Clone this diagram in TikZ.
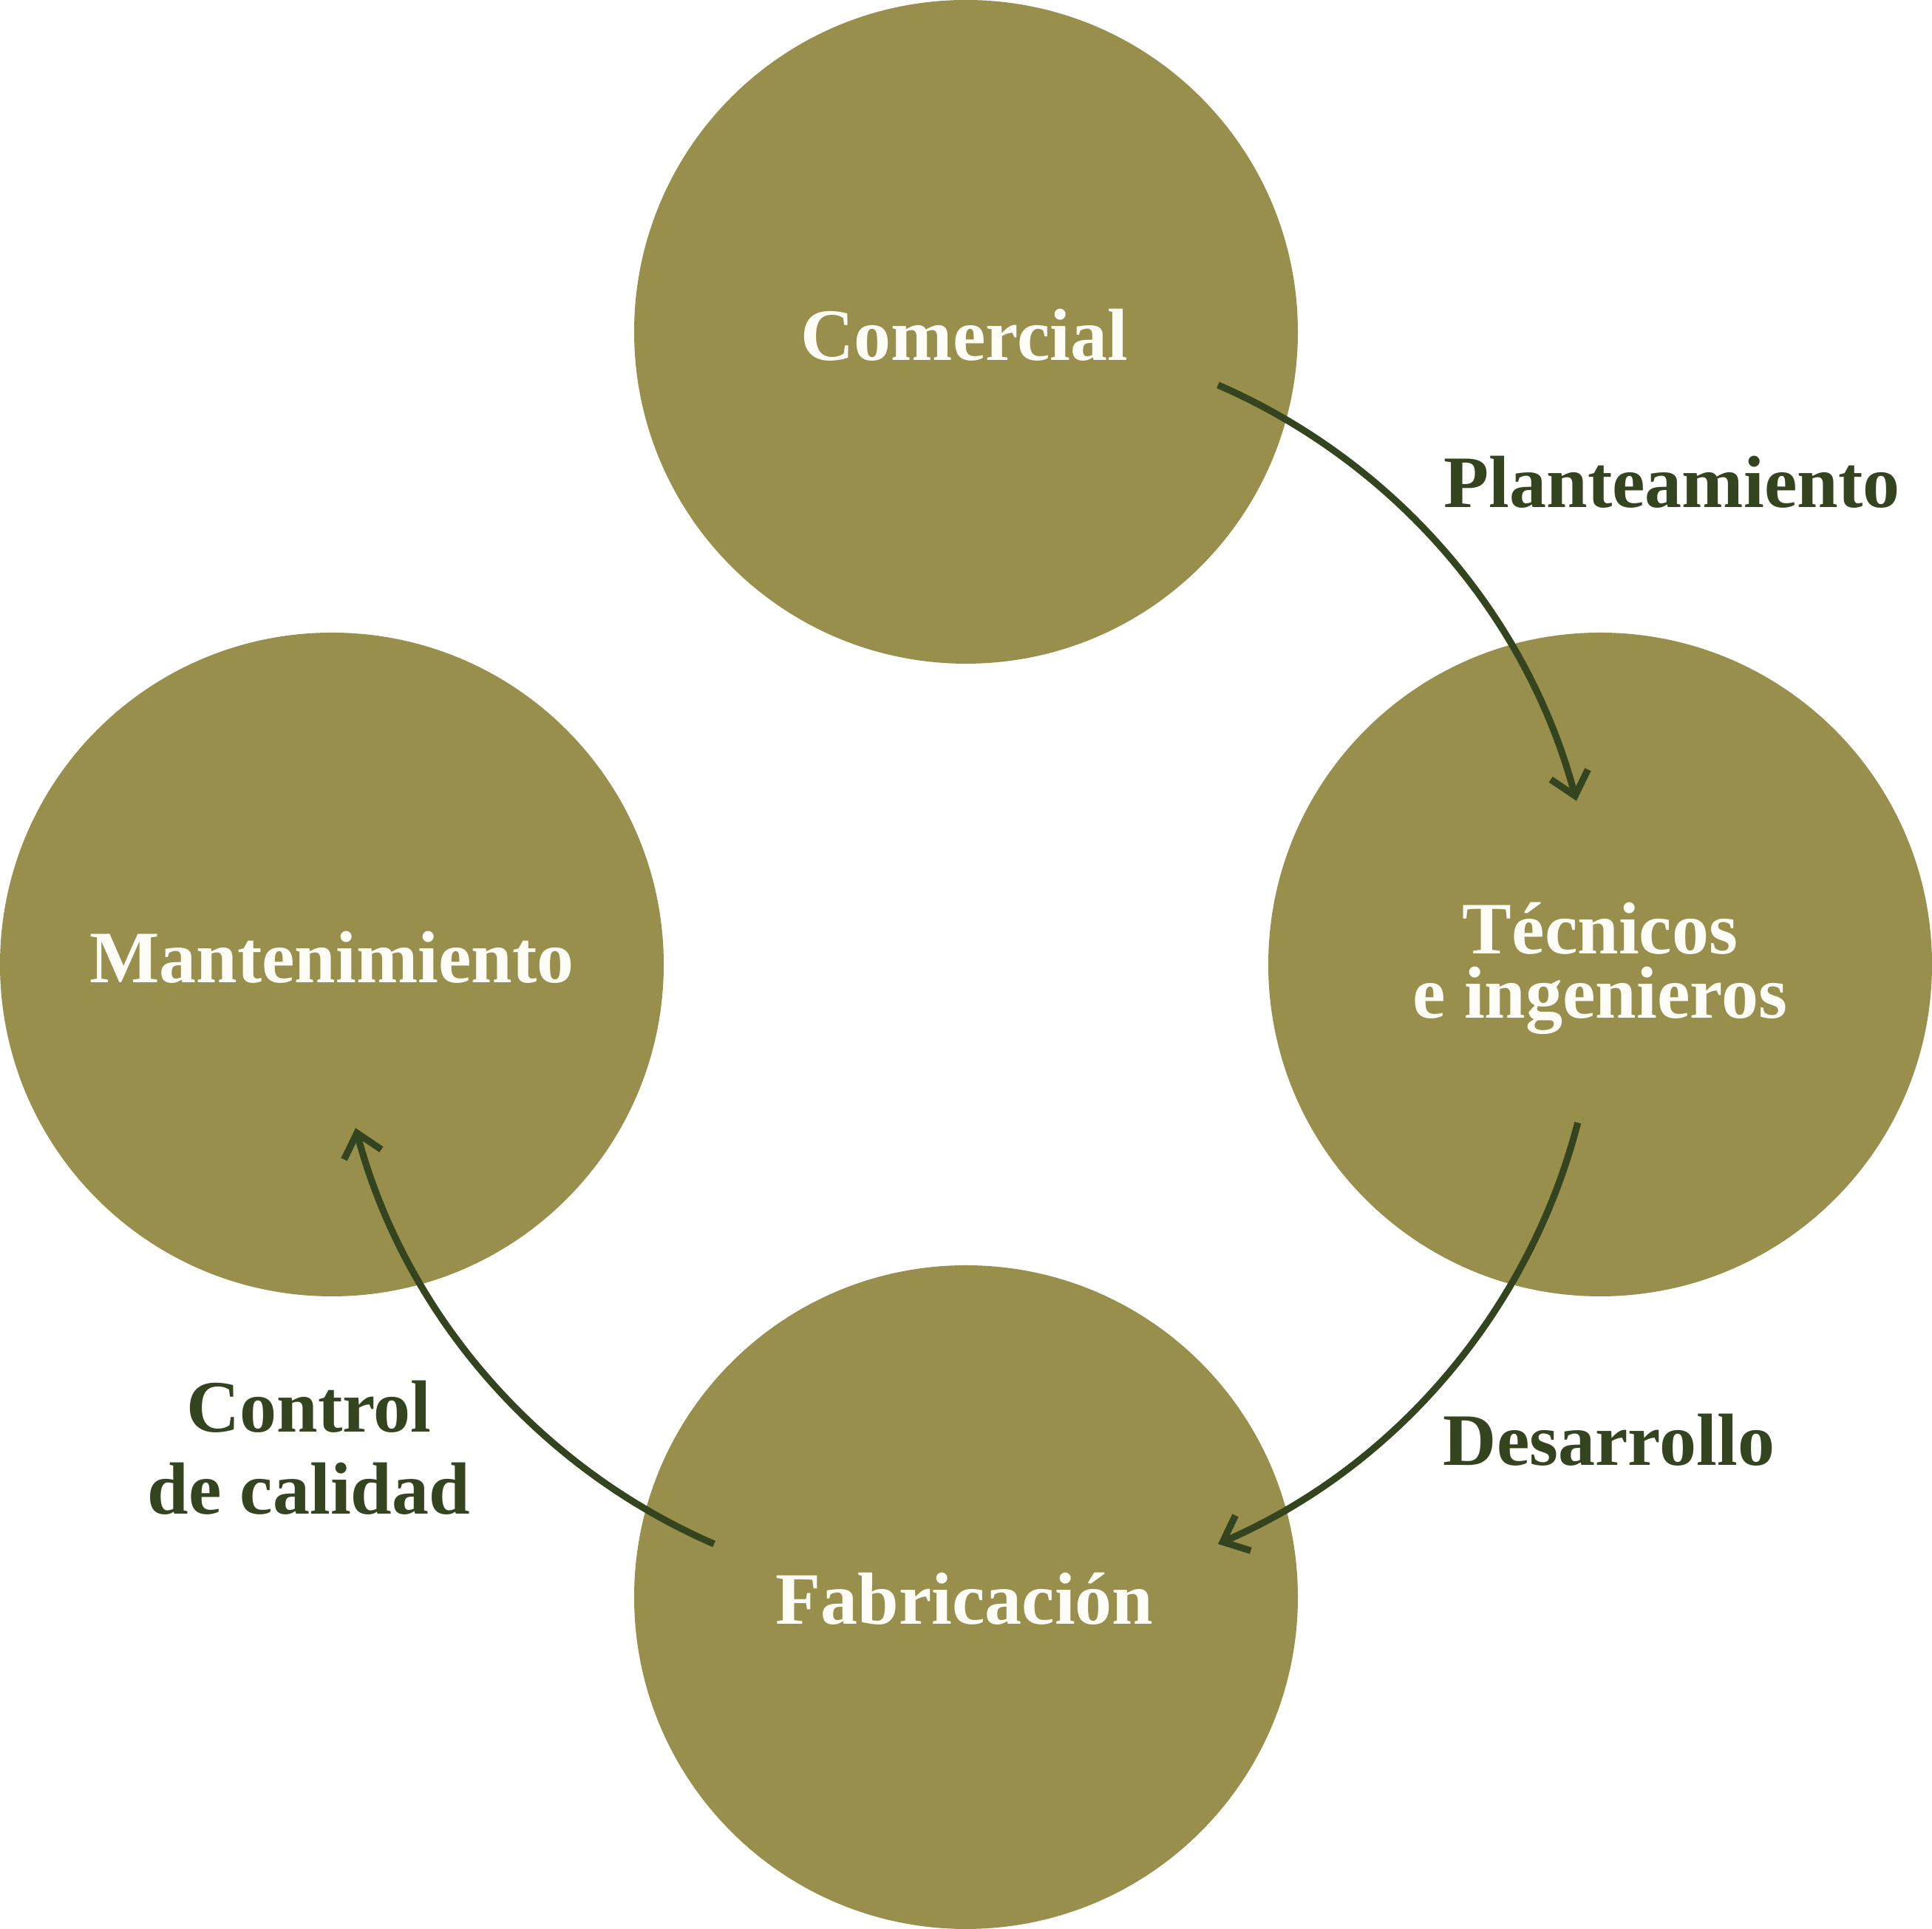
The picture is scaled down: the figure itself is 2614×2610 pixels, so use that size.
\documentclass[tikz,border=0pt]{standalone}
\usepackage{fontspec}
\setmainfont{Liberation Serif}
\usetikzlibrary{arrows.meta}
\definecolor{olivefill}{HTML}{978F4B}
\definecolor{darkgreen}{HTML}{34441F}
\definecolor{paper}{HTML}{FDFCF7}
\begin{document}
\begin{tikzpicture}[x=0.5pt,y=0.5pt,
  stage/.style={circle, fill=olivefill, draw=none, minimum size=449pt, inner sep=0pt},
  stagetext/.style={text=paper, inner sep=0pt, anchor=base, align=center,
    font=\bfseries\fontsize{50}{43.5}\selectfont},
  steplabel/.style={text=darkgreen, inner sep=0pt, anchor=base, align=center,
    font=\bfseries\fontsize{50}{55.5}\selectfont},
  flow/.style={draw=darkgreen, line width=4.6pt, line cap=butt,
    -{Straight Barb[length=15pt, width=26pt, line join=miter, line cap=butt]}}]
\useasboundingbox (0,0) rectangle (2614,2610);
\coordinate (hub) at (1307,1305);
% stages
\node[stage] (com) at (1307,2161) {};
\node[stage] (tec) at (2165,1305) {};
\node[stage] (man) at (449,1305) {};
\node[stage] (fab) at (1307,449) {};
\node[stagetext] (comt) at (1305,2122) {Comercial};
\node[stagetext] (tect) at (2165,1232) {Técnicos\\e ingenieros};
\node[stagetext] (mant) at (449,1280) {Mantenimiento};
\node[stagetext] (fabt) at (1305,412) {Fabricación};
% flows
\draw[flow] ([shift={(66.5:855)}]hub) arc[start angle=66.5, end angle=15, radius=855];
\draw[flow] ([shift={(-14.5:855)}]hub) arc[start angle=-14.5, end angle=-66.5, radius=855];
\draw[flow] ([shift={(-113.5:855)}]hub) arc[start angle=-113.5, end angle=-165, radius=855];
% labels
\node[steplabel] (plan) at (2262,1923) {Planteamiento};
\node[steplabel] (desa) at (2177,627) {Desarrollo};
\node[steplabel] (ctrl) at (418,561) {Control\\de calidad};
\end{tikzpicture}
\end{document}
